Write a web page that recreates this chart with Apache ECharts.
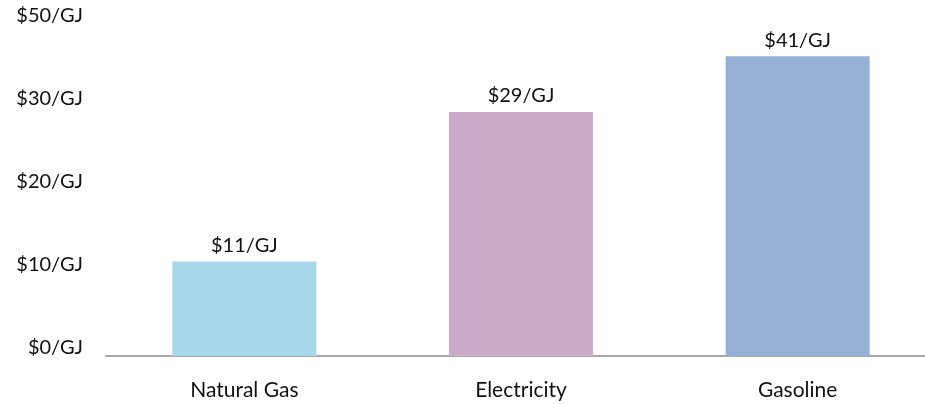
<!DOCTYPE html>
<html><head><meta charset="utf-8">
<script src="https://cdn.jsdelivr.net/npm/echarts@6/dist/echarts.min.js"></script>
<style>html,body{margin:0;padding:0;background:#fff;overflow:hidden}#c{width:940px;height:404px}</style>
</head><body><div id="c"></div>
<script>
const categories = ["Natural Gas", "Electricity", "Gasoline"];
const values = [11.4, 29.4, 36.1];
const valueLabels = ["$11/GJ", "$29/GJ", "$41/GJ"];
const barColors = ["#A6D8EA", "#CBA9C8", "#96AFD5"];
const yTickLabels = ["$0/GJ", "$10/GJ", "$20/GJ", "$30/GJ", "$50/GJ"];

const FONT = "Lato";
const chart = echarts.init(document.getElementById('c'), null, {renderer: 'canvas'});
chart.setOption({
  animation: false,
  grid: {left: 106, width: 830, top: 24, bottom: 48, containLabel: false},
  xAxis: {
    type: 'category', data: categories,
    axisLine: {lineStyle: {color: '#A8A8AC', width: 2}},
    axisTick: {show: false},
    axisLabel: {color: '#111', fontFamily: FONT, fontSize: 21, margin: 24}
  },
  yAxis: {
    type: 'value', min: 0, max: 40, interval: 10,
    splitLine: {show: false}, axisLine: {show: false}, axisTick: {show: false},
    axisLabel: {
      color: '#111', fontFamily: FONT, fontSize: 20, margin: 23,
      verticalAlign: 'bottom', lineHeight: 16,
      formatter: v => yTickLabels[Math.round(v / 10)]
    }
  },
  series: [{
    type: 'bar', barWidth: 144,
    data: values.map((v, i) => ({value: v, itemStyle: {color: barColors[i]}})),
    label: {
      show: true, position: 'top', distance: 6,
      color: '#111', fontFamily: FONT, fontSize: 20,
      formatter: p => valueLabels[p.dataIndex]
    }
  }]
});
</script></body></html>
